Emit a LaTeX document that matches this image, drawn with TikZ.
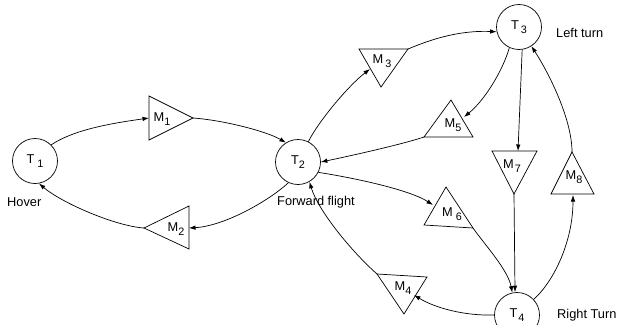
\documentclass[tikz,border=0pt]{standalone}
\usepackage{fontspec}
\setmainfont{Liberation Sans}
\usetikzlibrary{arrows.meta}
\newcommand{\lowsub}[1]{\raisebox{-4pt}{\fontsize{10.8}{12}\selectfont #1}}
\tikzset{
  state/.style={circle,draw,line width=0.7pt,minimum size=45pt,inner sep=0pt,font=\fontsize{12.8}{15}\selectfont},
  tri/.style={draw,line width=0.7pt,line join=miter},
  lbl/.style={inner sep=0pt,font=\fontsize{12.8}{15}\selectfont},
  conn/.style={line width=0.7pt,-{Latex[length=6.5pt,width=4.5pt]}},
  plain/.style={inner sep=0pt,anchor=base west,font=\fontsize{12.8}{15}\selectfont}
}
\begin{document}
\begin{tikzpicture}[x=1pt,y=1pt]
\useasboundingbox (0,0) rectangle (617,-324);
% states
\node[state] (T1) at (35,-161) {T\hspace{3pt}\lowsub{1}};
\node[state] (T2) at (298,-162) {T\lowsub{2}};
\node[state] (T3) at (519,-27) {T\hspace{2pt}\lowsub{3}};
\node[state] (T4) at (517,-315) {T\hspace{1pt}\lowsub{4}};
% state labels
\node[plain] (hov) at (7,-206) {Hover};
\node[plain] (ff) at (277,-205) {Forward flight};
\node[plain] (lt) at (556,-37) {Left turn};
\node[plain] (rt) at (557,-318) {Right Turn};
% triangle corners
\coordinate (m1a) at (149,-96); \coordinate (m1b) at (149,-140); \coordinate (m1c) at (193,-118);
\coordinate (m2a) at (144,-228); \coordinate (m2b) at (189,-206); \coordinate (m2c) at (189,-249);
\coordinate (m3a) at (359,-49); \coordinate (m3b) at (408,-49); \coordinate (m3c) at (381,-87);
\coordinate (m4a) at (377,-274); \coordinate (m4b) at (427,-277); \coordinate (m4c) at (404,-314);
\coordinate (m5a) at (451,-100); \coordinate (m5b) at (424,-137); \coordinate (m5c) at (473,-137);
\coordinate (m6a) at (446,-187); \coordinate (m6b) at (424,-225); \coordinate (m6c) at (473,-228);
\coordinate (m7a) at (492,-151); \coordinate (m7b) at (537,-151); \coordinate (m7c) at (514,-194);
\coordinate (m8a) at (572,-152); \coordinate (m8b) at (551,-194); \coordinate (m8c) at (594,-194);
\draw[tri] (m1a) -- (m1b) -- (m1c) -- cycle;
\draw[tri] (m2a) -- (m2b) -- (m2c) -- cycle;
\draw[tri] (m3a) -- (m3b) -- (m3c) -- cycle;
\draw[tri] (m4a) -- (m4b) -- (m4c) -- cycle;
\draw[tri] (m5a) -- (m5b) -- (m5c) -- cycle;
\draw[tri] (m6a) -- (m6b) -- (m6c) -- cycle;
\draw[tri] (m7a) -- (m7b) -- (m7c) -- cycle;
\draw[tri] (m8a) -- (m8b) -- (m8c) -- cycle;
% triangle labels
\node[lbl] (M1) at (162,-119) {M\lowsub{1}};
\node[lbl] (M2) at (176,-229) {M\lowsub{2}};
\node[lbl] (M3) at (382,-61) {M\hspace{2pt}\lowsub{3}};
\node[lbl] (M4) at (403,-288) {M\lowsub{4}};
\node[lbl] (M5) at (453,-125) {M\lowsub{5}};
\node[lbl] (M6) at (452,-214) {M\hspace{3pt}\lowsub{6}};
\node[lbl] (M7) at (512,-166) {M\hspace{1pt}\lowsub{7}};
\node[lbl] (M8) at (574,-177) {M\lowsub{8}};
% connection points on triangles
\coordinate (m1in) at (149,-118);
\coordinate (m2in) at (189,-228);
\coordinate (m3in) at (370,-69);
\coordinate (m4in) at (414,-295);
\coordinate (m5in) at (464,-117);
\coordinate (m6in) at (433,-205);
\coordinate (m7in) at (518,-151);
\coordinate (m8in) at (573,-195);
% connectors
\draw[conn] (T1.45) .. controls (75,-129) and (114,-123) .. (m1in);
\draw[conn] (m1c) .. controls (222,-120) and (266,-131) .. (T2.122);
\draw[conn] (T2.245) .. controls (270,-200) and (225,-226) .. (m2in);
\draw[conn] (m2a) .. controls (115,-226) and (62,-203) .. (T1.280);
\draw[conn] (T2.63) .. controls (318,-122) and (348,-86) .. (m3in);
\draw[conn] (m3b) .. controls (425,-42) and (455,-30) .. (T3.192);
\draw[conn] (T3.245) .. controls (503,-70) and (485,-100) .. (m5in);
\draw[conn] (m5b) .. controls (400,-145) and (345,-157) .. (T2.0);
\draw[conn] (T3.278) -- (m7in);
\draw[conn] (m8a) .. controls (572,-120) and (550,-75) .. (T3.303);
\draw[conn] (T2.333) .. controls (355,-178) and (410,-190) .. (m6in);
\draw[conn] (m6c) .. controls (485,-245) and (508,-270) .. (T4.102);
\draw[conn] (m7c) -- (T4.95);
\draw[conn] (T4.43) .. controls (555,-280) and (573,-240) .. (m8in);
\draw[conn] (T4.180) .. controls (465,-316) and (435,-308) .. (m4in);
\draw[conn] (m4a) .. controls (350,-250) and (318,-210) .. (T2.300);
\end{tikzpicture}
\end{document}
